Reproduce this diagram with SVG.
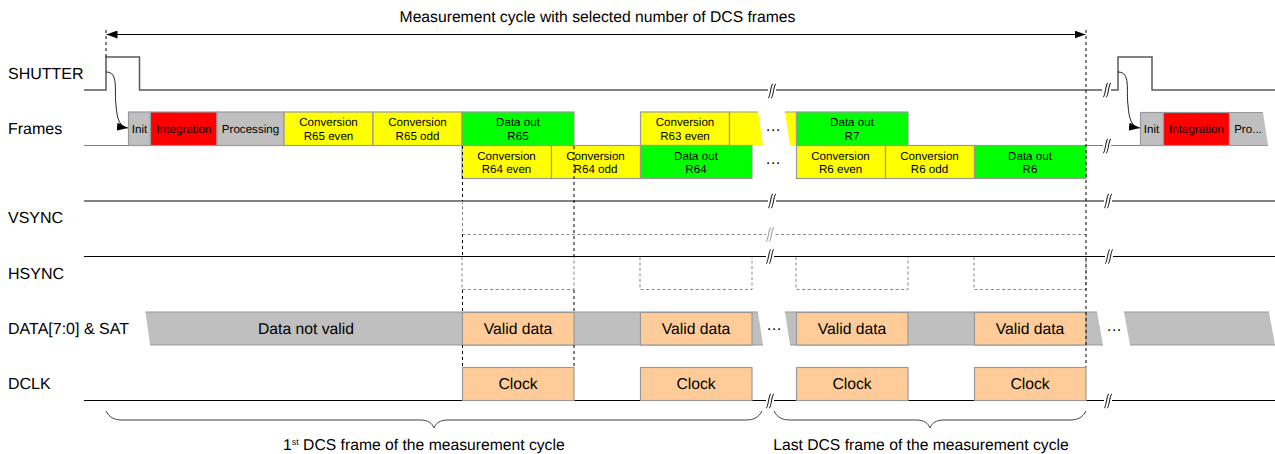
<svg xmlns="http://www.w3.org/2000/svg" width="1275" height="454" viewBox="0 0 1275 454">
<style>
text{font-family:"Liberation Sans",Arial,sans-serif;fill:#000;text-rendering:geometricPrecision}
.l{font-size:16px}
.s{font-size:11.6px;text-anchor:middle}
.m{font-size:15.7px;text-anchor:middle}
.b{stroke:#999;stroke-width:1.2}
.g{fill:#bfbfbf}.r{fill:#f00}.y{fill:#ff0}.v{fill:#0f0}.o{fill:#fc9}
.w{fill:none;stroke:#595959;stroke-width:1.5}
.k{fill:none;stroke:#000;stroke-width:1.2}
.c{fill:none;stroke:#222;stroke-width:1}
.dk{fill:none;stroke:#000;stroke-width:1;stroke-dasharray:3 3}
.dg{fill:none;stroke:#888;stroke-width:1;stroke-dasharray:3 2.500}
.br{fill:none;stroke:#404040;stroke-width:1}
.e{fill:none;stroke:#999;stroke-width:1.2}
.t{fill:none;stroke:#222;stroke-width:1.1}
.tg{fill:none;stroke:#999;stroke-width:1.1}
</style>
<defs>
<marker id="a" markerUnits="userSpaceOnUse" markerWidth="12" markerHeight="8" refX="11" refY="4" orient="auto-start-reverse"><path d="M0 0L11 4L0 8z" fill="#000"/></marker>
<path id="s" d="M-4 7C-1.500 7-1.500-7 1-7M-1 7C1.500 7 1.500-7 4-7"/>
<rect id="m" x="-4" y="-3" width="8" height="6" fill="#fff"/>
</defs>
<g id="signals">
<path class="w" d="M84 90H106V57H139.500V90H1102"/>
<path class="w" d="M1110 90H1118V57H1152V90H1275"/>
<path d="M84 145.500H128M574 145.500H640M1086 145.500H1140" fill="none" stroke="#7f7f7f" stroke-width="1"/>
<path class="w" d="M84 201H1275"/>
<path class="k" d="M84 256.500H1275"/>
<path class="k" d="M84 400.500H1275"/>
<path class="dg" d="M462 234.500H1086"/>
<path class="dg" d="M462 257V289.500H574V257M640 257V289.500H752V257M796 257V289.500H908V257M974 257V289.500H1086V257"/>
</g>
<g id="shutter"><text class="l" x="8" y="79">SHUTTER</text></g>
<g id="frames-label"><text class="l" x="8" y="134">Frames</text></g>
<g id="vsync-label"><text class="l" x="8" y="223">VSYNC</text></g>
<g id="hsync-label"><text class="l" x="8" y="279">HSYNC</text></g>
<g id="data-label"><text class="l" x="8" y="334">DATA[7:0] &amp; SAT</text></g>
<g id="dclk-label"><text class="l" x="8" y="389">DCLK</text></g>
<g id="frames-row1">
<rect class="g b" x="128.500" y="112" width="22" height="33.500"/><text class="s" x="139.500" y="133">Init</text>
<rect class="r b" x="150.500" y="112" width="66.500" height="33.500"/><text class="s" x="184" y="133">Integration</text>
<rect class="g b" x="217" y="112" width="67" height="33.500"/><text class="s" x="250.500" y="133">Processing</text>
<rect class="y b" x="284" y="112" width="89" height="33.500"/><text class="s" x="328.500" y="126">Conversion</text><text class="s" x="328.500" y="140">R65 even</text>
<rect class="y b" x="373" y="112" width="89" height="33.500"/><text class="s" x="417.500" y="126">Conversion</text><text class="s" x="417.500" y="140">R65 odd</text>
<rect class="v b" x="462" y="112" width="112" height="33.500"/><text class="s" x="518" y="126">Data out</text><text class="s" x="518" y="140">R65</text>
<rect class="y b" x="640.500" y="112" width="89" height="33.500"/><text class="s" x="685" y="126">Conversion</text><text class="s" x="685" y="140">R63 even</text>
<path class="y" d="M729.500 112H758L763 145.500H729.500z"/><path class="e" d="M729.500 145.500V112H758"/>
<path class="y" d="M785 112H796V145.500H790z"/><path class="e" d="M785 112H796.500V145.500"/>
<rect class="v b" x="796.500" y="112" width="111.500" height="33.500"/><text class="s" x="852" y="126">Data out</text><text class="s" x="852" y="140">R7</text>
<text class="m" x="773" y="131">…</text>
</g>
<g id="frames-row2">
<rect class="y b" x="462" y="145.500" width="89.500" height="33"/><text class="s" x="506.500" y="160">Conversion</text><text class="s" x="506.500" y="173">R64 even</text>
<rect class="y b" x="551.500" y="145.500" width="89" height="33"/><text class="s" x="595.500" y="160">Conversion</text><text class="s" x="595.500" y="173">R64 odd</text>
<rect class="v b" x="640.500" y="145.500" width="111.500" height="33"/><text class="s" x="696" y="160">Data out</text><text class="s" x="696" y="173">R64</text>
<rect class="y b" x="796.500" y="145.500" width="89" height="33"/><text class="s" x="840.500" y="160">Conversion</text><text class="s" x="840.500" y="173">R6 even</text>
<rect class="y b" x="885.500" y="145.500" width="89" height="33"/><text class="s" x="929.500" y="160">Conversion</text><text class="s" x="929.500" y="173">R6 odd</text>
<rect class="v b" x="974.500" y="145.500" width="111.500" height="33"/><text class="s" x="1030" y="160">Data out</text><text class="s" x="1030" y="173">R6</text>
<text class="m" x="773" y="164">…</text>
</g>
<g id="frames-next">
<rect class="g b" x="1140.500" y="112.500" width="23" height="33"/><text class="s" x="1151.500" y="133">Init</text>
<rect class="r b" x="1163.500" y="112.500" width="66" height="33"/><text class="s" x="1196.500" y="133">Integration</text>
<path class="g" d="M1229.500 112.500H1263L1268 145.500H1229.500z"/><path class="e" d="M1268 145.500H1229.500V112.500H1263"/><text class="s" x="1248" y="133">Pro...</text>
</g>
<g id="data-row">
<path class="g" d="M145.500 312H758L763 345H150z"/><path class="e" d="M145.500 312H758M150 345H763"/>
<path class="g" d="M785 312H1097L1103 345H790z"/><path class="e" d="M785 312H1097M790 345H1103"/>
<path class="g" d="M1124 312H1269L1275 345H1130z"/><path class="e" d="M1124 312H1269M1130 345H1275"/>
<text class="m" x="306" y="334">Data not valid</text>
<rect class="o b" x="462.500" y="312.500" width="111.500" height="32.500"/><text class="m" x="518" y="334">Valid data</text>
<rect class="o b" x="640.500" y="312.500" width="111.500" height="32.500"/><text class="m" x="696" y="334">Valid data</text>
<rect class="o b" x="796.500" y="312.500" width="111.500" height="32.500"/><text class="m" x="852" y="334">Valid data</text>
<rect class="o b" x="974.500" y="312.500" width="111.500" height="32.500"/><text class="m" x="1030" y="334">Valid data</text>
<text class="m" x="774" y="330">…</text><text class="m" x="1114" y="331">…</text>
</g>
<g id="dclk-row">
<rect class="o b" x="462.500" y="367.500" width="111.500" height="33"/><text class="m" x="518" y="389">Clock</text>
<rect class="o b" x="640.500" y="367.500" width="111.500" height="33"/><text class="m" x="696" y="389">Clock</text>
<rect class="o b" x="796.500" y="367.500" width="111.500" height="33"/><text class="m" x="852" y="389">Clock</text>
<rect class="o b" x="974.500" y="367.500" width="111.500" height="33"/><text class="m" x="1030" y="389">Clock</text>
</g>
<g id="connectors">
<path d="M106.500 34.500H1085.500" fill="none" stroke="#000" stroke-width="1.200" marker-start="url(#a)" marker-end="url(#a)"/>
<path class="c" d="M106 72C119 72 114 90 116 105C117 120 120 127 128 128" marker-end="url(#a)"/>
<path class="c" d="M1118 72C1131 72 1126 90 1128 105C1129 120 1132 127 1140 128" marker-end="url(#a)"/>
<path class="dk" d="M106 30V57"/>
<path class="dk" d="M1086 30V367"/>
<path class="dk" d="M462.500 146V201M462.500 234V256M462.500 290V312M462.500 345V367"/>
<path class="dg" d="M462.500 201V234"/>
<path class="dk" d="M574 146V256M574 290V312M574 345V367"/>
<g id="breaks">
<use href="#m" x="772" y="90"/><use href="#m" x="772" y="201"/><use href="#m" x="770" y="234.500"/><use href="#m" x="770" y="256.500"/><use href="#m" x="770" y="400.500"/><use href="#m" x="1107" y="90"/><use href="#m" x="1107" y="145.500"/><use href="#m" x="1108" y="201"/><use href="#m" x="1109" y="256.500"/><use href="#m" x="1108" y="400.500"/>
<g class="t"><use href="#s" x="772" y="91"/><use href="#s" x="772" y="201"/><use href="#s" x="770" y="256.500"/><use href="#s" x="770" y="401"/><use href="#s" x="1107" y="90"/><use href="#s" x="1107" y="146"/><use href="#s" x="1108" y="201"/><use href="#s" x="1109" y="256.500"/><use href="#s" x="1108" y="401"/></g>
<g class="tg"><use href="#s" x="770" y="234.500"/></g>
</g>
<path class="br" d="M106 411C109 417 114 420 122 420H420C428 420 432 423 434 428C436 423 440 420 448 420H746C754 420 759 417 762 411"/>
<path class="br" d="M774 411C777 417 782 420 790 420H916C924 420 928 423 930 428C932 423 936 420 944 420H1070C1078 420 1083 417 1086 411"/>
</g>
<g id="annotations">
<text class="m" x="597.500" y="22">Measurement cycle with selected number of DCS frames</text>
<text x="283" y="450" style="font-size:15.7px">1<tspan font-size="9" dy="-5">st</tspan><tspan dy="5"> DCS frame of the measurement cycle</tspan></text>
<text class="m" x="921" y="450">Last DCS frame of the measurement cycle</text>
</g>
</svg>
